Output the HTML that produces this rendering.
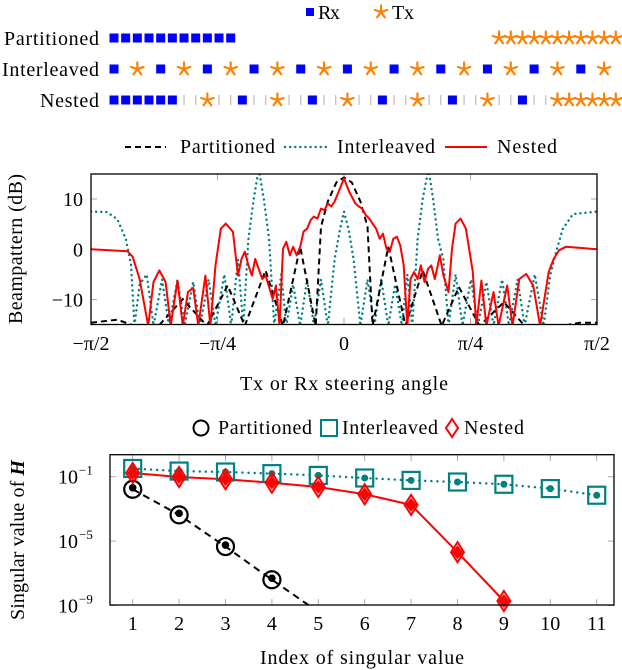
<!DOCTYPE html>
<html><head><meta charset="utf-8"><style>
html,body{margin:0;padding:0;background:#fff;}
svg{display:block;font-family:"Liberation Serif",serif;}
</style></head><body>
<svg id="fig" width="622" height="670" viewBox="0 0 622 670" xmlns="http://www.w3.org/2000/svg">
<defs>
<clipPath id="clipM"><rect x="91" y="174" width="506" height="150.5"/></clipPath>
<clipPath id="clipB"><rect x="110" y="454.7" width="504" height="150.3"/></clipPath>
</defs>
<g>
<rect x="306" y="8" width="8" height="8" fill="#0000ff"/>
<text x="318" y="19" font-size="20" textLength="22">Rx</text>
<g id="txLegStar"></g>
<text x="392" y="19" font-size="20" textLength="22">Tx</text>
</g>
<text x="4" y="45" font-size="20" textLength="95">Partitioned</text>
<text x="2" y="76" font-size="20" textLength="97">Interleaved</text>
<text x="40" y="107" font-size="20" textLength="59">Nested</text>
<g id="arrays"></g>

<g>
<line x1="125" y1="147" x2="166" y2="147" stroke="#000" stroke-width="2" stroke-dasharray="6,4"/>
<text x="180" y="153" font-size="20" textLength="95">Partitioned</text>
<line x1="285" y1="147" x2="328" y2="147" stroke="#008080" stroke-width="2.4" stroke-dasharray="0.1,5" stroke-linecap="round"/>
<text x="337" y="153" font-size="20" textLength="98">Interleaved</text>
<line x1="445" y1="147" x2="487" y2="147" stroke="#ff0000" stroke-width="2"/>
<text x="497" y="153" font-size="20" textLength="60">Nested</text>
</g>
<g id="midAxes"></g>
<g id="midPlot" clip-path="url(#clipM)"></g>
<rect x="91" y="174" width="506" height="150.5" fill="none" stroke="#000" stroke-width="1.3"/>
<text transform="translate(22,249) rotate(-90)" font-size="20" text-anchor="middle" textLength="150">Beampattern (dB)</text>
<text x="344" y="390" font-size="20" text-anchor="middle" textLength="208">Tx or Rx steering angle</text>

<g>
<circle cx="201" cy="428" r="7.5" fill="none" stroke="#000" stroke-width="2"/>
<text x="218" y="434" font-size="20" textLength="94">Partitioned</text>
<rect x="321" y="420" width="16" height="16" fill="none" stroke="#008080" stroke-width="2"/>
<text x="342" y="434" font-size="20" textLength="96">Interleaved</text>
<path d="M452,419 L458,428 L452,437 L446,428 Z" fill="none" stroke="#ff0000" stroke-width="2"/>
<text x="464" y="434" font-size="20" textLength="60">Nested</text>
</g>
<g id="botAxes"></g>
<g id="botPlot" clip-path="url(#clipB)"></g>
<g id="botMarks"></g>
<rect x="110" y="454.7" width="504" height="150.3" fill="none" stroke="#000" stroke-width="1.3"/>
<text transform="translate(24,540) rotate(-90)" font-size="20" text-anchor="middle" textLength="160">Singular value of <tspan font-weight="bold" font-style="italic">H</tspan></text>
<text x="362" y="664" font-size="20" text-anchor="middle" textLength="204">Index of singular value</text>
</svg>
<script>
// ---------- array geometry data (element index on grid) ----------
const partRx = [0,1,2,3,4,5,6,7,8,9,10];
const partTx = [33,34,35,36,37,38,39,40,41,42,43];
const interRx = [0,4,8,12,16,20,24,28,32,36,40];
const interTx = [2,6,10,14,18,22,26,30,34,38,42];
const nestRx = [0,1,2,3,4,5,11,17,23,29,35];
const nestTx = [8,14,20,26,32,38,39,40,41,42,43];

// ---------- beampattern data (angle as fraction of pi/2, dB) ----------
const angPart = [-1,-0.896,-0.828,-0.733,-0.637,-0.542,-0.460,-0.392,-0.310,-0.241,-0.173,-0.112,-0.091,-0.064,-0.030,0,0.031,0.065,0.093,0.113,0.175,0.243,0.311,0.386,0.454,0.536,0.632,0.714,0.864,0.932,1];
const dbPart = [-14.6,-14.0,-15.2,-15.2,-9.9,-15.2,-7.2,-15.2,-4.2,-15.2,0.5,-15.2,4.5,9.5,13.3,14.3,13.3,9.5,4.5,-15.2,0.5,-15.2,-4.2,-15.2,-7.5,-15.2,-10.5,-15.2,-15.2,-14.6,-14.6];
const angInter = [-1,-0.937,-0.896,-0.862,-0.842,-0.828,-0.808,-0.780,-0.753,-0.719,-0.692,-0.658,-0.630,-0.596,-0.569,-0.535,-0.508,-0.473,-0.446,-0.419,-0.398,-0.378,-0.357,-0.337,-0.317,-0.296,-0.276,-0.248,-0.228,-0.201,-0.173,-0.146,-0.119,-0.091,-0.064,-0.037,-0.016,0,0.018,0.038,0.065,0.093,0.120,0.147,0.175,0.202,0.229,0.250,0.270,0.291,0.311,0.334,0.352,0.372,0.393,0.413,0.441,0.468,0.502,0.529,0.563,0.591,0.625,0.652,0.686,0.714,0.754,0.789,0.816,0.836,0.864,0.905,1];
const dbInter = [7.5,7.4,6,2,-3,-15.2,-7,-5,-15.2,-6,-15.2,-6,-15.2,-6.5,-15.2,-6,-15.2,-5,-15.2,-2,-15.2,2,10,16,10,2,-15.2,-5,-15.2,-7,-15.2,-6,-15.2,-6,-15.2,-2,4,7.5,4,-2,-15.2,-6,-15.2,-6,-15.2,-7,-15.2,-5,-15.2,2,10,16,10,2,-2,-15.2,-5,-15.2,-6,-15.2,-6.5,-15.2,-6,-15.2,-6,-15.2,-5,-15.2,-5,-1,4,7,7.5];
const angNest = [-1,-0.855,-0.835,-0.808,-0.774,-0.753,-0.730,-0.705,-0.685,-0.658,-0.637,-0.617,-0.596,-0.576,-0.548,-0.528,-0.508,-0.487,-0.467,-0.439,-0.419,-0.405,-0.392,-0.378,-0.364,-0.351,-0.337,-0.323,-0.310,-0.282,-0.269,-0.255,-0.241,-0.228,-0.214,-0.201,-0.187,-0.173,-0.160,-0.146,-0.132,-0.119,-0.105,-0.091,-0.078,-0.064,-0.050,-0.037,-0.016,0,0.020,0.045,0.059,0.072,0.086,0.100,0.113,0.127,0.141,0.154,0.168,0.181,0.195,0.209,0.222,0.236,0.250,0.263,0.277,0.291,0.304,0.318,0.332,0.345,0.359,0.379,0.393,0.413,0.427,0.441,0.461,0.482,0.509,0.523,0.543,0.563,0.591,0.611,0.645,0.666,0.693,0.720,0.748,0.775,0.809,0.829,0.850,0.877,1];
const dbNest = [0,-0.4,-1.5,-5.9,-15.2,-6.5,-4.2,-6.5,-15.2,-6.2,-15.2,-8.5,-7.7,-15.2,-5.2,-15.2,-3.2,4.1,5.1,3.5,-5.2,-1.9,-0.5,-3.2,-5.2,-1.9,-3.9,-5.9,-5.2,-9.9,-7.2,-15.2,0.1,1.5,-1.2,0.5,-1.2,0.5,3.5,4.1,5.8,6.5,6.1,8.1,7.8,9.1,8.5,9.5,12.1,14.1,11.5,9.1,8.5,8.1,6.8,6.1,5.1,4.1,2.1,3.1,0.1,-0.5,2.1,2.5,0.8,-3.2,-15.2,-5.9,-4.5,-5.9,-3.2,-6.5,-3.9,-3.2,-5.9,-1.2,-5.2,-8.5,0.1,5.1,6.1,4.1,-4.5,-15.2,-6.2,-15.2,-8.5,-15.2,-7.2,-15.2,-5.9,-4.9,-7.2,-15.2,-4.5,-1.9,-0.2,0.5,0];
const midXTicks = ["\u2212\u03c0/2","\u2212\u03c0/4","0","\u03c0/4","\u03c0/2"];
const midXTickVals = [-1,-0.5,0,0.5,1];
const midYTicks = [10,0,-10];

// ---------- singular values (log10) ----------
const svIndex = [1,2,3,4,5,6,7,8,9,10,11];
const svPart = [-1.78,-3.37,-5.34,-7.4,-9.4];
const svInter = [-0.49,-0.65,-0.71,-0.81,-0.92,-1.08,-1.23,-1.33,-1.47,-1.74,-2.15];
const svNest = [-0.77,-1.02,-1.16,-1.37,-1.64,-2.09,-2.75,-5.69,-8.72];
const botYTicks = [-1,-5,-9];

const NS = "http://www.w3.org/2000/svg";
function mk(tag, attrs, parent){const e=document.createElementNS(NS,tag);for(const k in attrs)e.setAttribute(k,attrs[k]);parent.appendChild(e);return e;}
function star(g,cx,cy,r){
  for(let k=0;k<5;k++){const a=-Math.PI/2+k*2*Math.PI/5;
    const l=mk('line',{x1:cx,y1:cy,x2:cx+r*Math.cos(a),y2:cy+r*Math.sin(a),stroke:'#ff8000','stroke-width':2.2,'stroke-linecap':'round'},g);
    
    }
}
star(document.getElementById('txLegStar'),381,12,6.5);

const ag=document.getElementById('arrays');
const gx=i=>114+i*11.67;
function rxSq(y,i){const r=mk('rect',{x:gx(i)-4.5,y:y-4.5,width:9,height:9,fill:'#0000ff'},ag);
  
  }
function txSt(y,i){const g=mk('g',{},ag);
  
  
  star(g,gx(i),y,6.5);}
partRx.forEach(i=>rxSq(38,i)); partTx.forEach(i=>txSt(38,i));
interRx.forEach(i=>rxSq(69,i)); interTx.forEach(i=>txSt(69,i));
for(let i=6;i<38;i++){ if(nestRx.indexOf(i)<0&&nestTx.indexOf(i)<0){
  const t=mk('line',{x1:gx(i),y1:95,x2:gx(i),y2:105,stroke:'#bbb','stroke-width':1.2},ag);
  
  }}
nestRx.forEach(i=>rxSq(100,i)); nestTx.forEach(i=>txSt(100,i));

// middle chart
const xm=u=>344+u*253, ym=d=>249.3-d*5.03;
const ma=document.getElementById('midAxes'), mp=document.getElementById('midPlot');
midXTickVals.forEach((v,i)=>{
  if(i>0&&i<4){
    const t1=mk('line',{x1:xm(v),y1:174,x2:xm(v),y2:180,stroke:'#aaa'},ma);
    
    
    const t2=mk('line',{x1:xm(v),y1:318,x2:xm(v),y2:324,stroke:'#aaa'},ma);
    
    }
  const t=mk('text',{x:xm(v),y:350,'font-size':20,'text-anchor':'middle'},ma);t.textContent=midXTicks[i];
  
  
});
midYTicks.forEach(v=>{
  const a=mk('line',{x1:91,y1:ym(v),x2:97,y2:ym(v),stroke:'#aaa'},ma);
  
  
  const b=mk('line',{x1:591,y1:ym(v),x2:597,y2:ym(v),stroke:'#aaa'},ma);
  
  
  const t=mk('text',{x:83,y:ym(v)+7,'font-size':20,'text-anchor':'end'},ma);t.textContent=v<0?'\u2212'+(-v):String(v);
  
  
});
function path(xs,ys,fx,fy){return xs.map((x,i)=>(i?'L':'M')+fx(x).toFixed(1)+','+fy(ys[i]).toFixed(1)).join(' ');}
const pI=mk('path',{d:path(angInter,dbInter,xm,ym),fill:'none',stroke:'#008080','stroke-width':2.4,'stroke-dasharray':'0.1,5','stroke-linecap':'round'},mp);


const pP=mk('path',{d:path(angPart,dbPart,xm,ym),fill:'none',stroke:'#000','stroke-width':2,'stroke-dasharray':'6,4'},mp);


const pN=mk('path',{d:path(angNest,dbNest,xm,ym),fill:'none',stroke:'#ff0000','stroke-width':2,'stroke-linejoin':'round'},mp);



// bottom chart
const xb=i=>132.7+(i-1)*46.4, yb=l=>476.7-(l+1)*16.1;
const ba=document.getElementById('botAxes'), bp=document.getElementById('botPlot'), bm=document.getElementById('botMarks');
svIndex.forEach(i=>{
  const a=mk('line',{x1:xb(i),y1:454.7,x2:xb(i),y2:461,stroke:'#aaa'},ba);
  
  
  const b=mk('line',{x1:xb(i),y1:599,x2:xb(i),y2:605,stroke:'#aaa'},ba);
  
  
  const t=mk('text',{x:xb(i),y:630,'font-size':20,'text-anchor':'middle'},ba);t.textContent=String(i);
  
  
});
botYTicks.forEach(v=>{
  const a=mk('line',{x1:110,y1:yb(v),x2:116,y2:yb(v),stroke:'#aaa'},ba);
  
  
  const b=mk('line',{x1:608,y1:yb(v),x2:614,y2:yb(v),stroke:'#aaa'},ba);
  
  
  const t=mk('text',{x:78,y:yb(v)+7,'font-size':20,'text-anchor':'end'},ba);t.textContent='10';
  
  
  const s=mk('text',{x:79,y:yb(v)-2,'font-size':13},ba);s.textContent='\u2212'+(-v);
  
  
});
const lI=mk('path',{d:path(svIndex,svInter,xb,yb),fill:'none',stroke:'#008080','stroke-width':2.4,'stroke-dasharray':'0.1,6','stroke-linecap':'round'},bp);


const lP=mk('path',{d:path(svIndex.slice(0,svPart.length),svPart,xb,yb),fill:'none',stroke:'#000','stroke-width':2,'stroke-dasharray':'7,5'},bp);


const lN=mk('path',{d:path(svIndex.slice(0,svNest.length),svNest,xb,yb),fill:'none',stroke:'#ff0000','stroke-width':2},bp);


svInter.forEach((v,k)=>{const x=xb(svIndex[k]),y=yb(v);
  const r=mk('rect',{x:x-8.5,y:y-8.5,width:17,height:17,fill:'none',stroke:'#008080','stroke-width':2.2},bm);
  
  
  const c=mk('circle',{cx:x,cy:y,r:3.5,fill:'#008080'},bm);
  
  });
svPart.forEach((v,k)=>{const x=xb(svIndex[k]),y=yb(v); if(y>605)return;
  const c=mk('circle',{cx:x,cy:y,r:8.5,fill:'none',stroke:'#000','stroke-width':2.2},bm);
  
  
  const d=mk('circle',{cx:x,cy:y-1.5,r:3.8,fill:'#000'},bm);
  
  });
svNest.forEach((v,k)=>{const x=xb(svIndex[k]),y=yb(v);
  const d=mk('path',{d:`M${x},${y-10} L${x+6.5},${y} L${x},${y+10} L${x-6.5},${y} Z`,fill:'none',stroke:'#ff0000','stroke-width':2},bm);
  
  
  const f=mk('path',{d:`M${x},${y-7} L${x+5.5},${y} L${x},${y+7} L${x-5.5},${y} Z`,fill:'#ff0000'},bm);
  
  });
</script>
</body></html>
